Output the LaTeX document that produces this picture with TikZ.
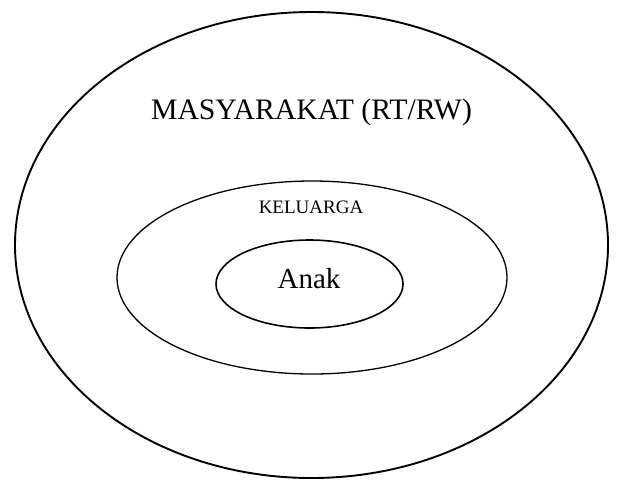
\documentclass[tikz,border=0pt]{standalone}
\usepackage{fontspec}
\setmainfont{Liberation Serif}
\usetikzlibrary{positioning}

\begin{document}
\begin{tikzpicture}[x=1pt,y=-1pt]
\useasboundingbox (0,0) rectangle (617,480);
\draw[line width=1.9pt] (311.5,245) ellipse [x radius=296.5, y radius=233];
\draw[line width=1.3pt] (312,277.5) ellipse [x radius=195, y radius=96.5];
\draw[line width=1.6pt] (309.5,284) ellipse [x radius=93.5, y radius=44];
\node[anchor=base] (masyarakat) at (311.5,119) {\fontsize{29.7}{32}\selectfont MASYARAKAT (RT/RW)};
\node[anchor=base] (keluarga) at (311,213) {\fontsize{19}{21}\selectfont KELUARGA};
\node[anchor=base] (anak) at (309,288) {\fontsize{29}{32}\selectfont Anak};
\end{tikzpicture}
\end{document}
